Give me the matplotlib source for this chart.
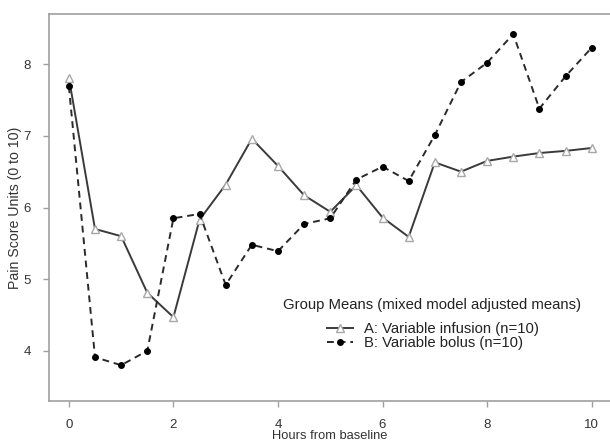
import matplotlib
matplotlib.use("Agg")
import matplotlib.pyplot as plt

hours = [0, 0.5, 1, 1.5, 2, 2.5, 3, 3.5, 4, 4.5, 5, 5.5, 6, 6.5, 7, 7.5, 8, 8.5, 9, 9.5, 10]
infusion = [7.81, 5.70, 5.60, 4.81, 4.47, 5.83, 6.32, 6.96, 6.58, 6.17, 5.94, 6.31, 5.86, 5.59,
            6.63, 6.50, 6.65, 6.71, 6.76, 6.79, 6.83]
bolus = [7.69, 3.91, 3.80, 4.00, 5.85, 5.91, 4.92, 5.48, 5.39, 5.77, 5.85, 6.39, 6.57, 6.37,
         7.01, 7.75, 8.02, 8.42, 7.38, 7.83, 8.23]
xticks = [0, 2, 4, 6, 8, 10]
yticks = [4, 5, 6, 7, 8]
label_a = "A: Variable infusion (n=10)"
label_b = "B: Variable bolus (n=10)"
legend_title = "Group Means (mixed model adjusted means)"

plt.rcParams['font.family'] = ['Liberation Sans', 'DejaVu Sans']

W, H = 610, 442
fig = plt.figure(figsize=(W / 100, H / 100), dpi=100)
ax = fig.add_axes([49 / W, 1 - 401 / H, (611 - 49) / W, (401 - 14) / H])

ax.plot(hours, infusion, color='#3a3a3a', lw=1.4, ls='-', marker='^', ms=5.5,
        mfc='white', mec='#a8a8a8', mew=1.0, label=label_a, zorder=3)
ax.plot(hours, bolus, color='#2a2a2a', lw=1.4, ls=(0, (3.5, 2.5)), marker='o', ms=4,
        mfc='black', mec='black', label=label_b, zorder=3)

ax.set_xlim(-0.38, 10.37)
ax.set_ylim(3.30, 8.70)
ax.set_xticks(xticks)
ax.set_yticks(yticks)

for s in ['left', 'top', 'bottom']:
    ax.spines[s].set_color('#a0a0a0')
    ax.spines[s].set_linewidth(1.2)
ax.spines['right'].set_visible(False)
ax.tick_params(colors='#a0a0a0', length=4, width=1, labelcolor='#333333', labelsize=9.5)
ax.tick_params(axis='x', pad=9)
ax.tick_params(axis='y', pad=9)

ax.set_xlabel("Hours from baseline", fontsize=9.3, color='#333333', labelpad=-1)
ax.set_ylabel("Pain Score Units (0 to 10)", fontsize=10.2, color='#333333')
ax.yaxis.set_label_coords(-0.048, 0.5)

fig.text(432 / W, 1 - 305 / H, legend_title, fontsize=10.7, color='#222222',
         ha='center', va='center')
leg = ax.legend(loc='upper center', bbox_to_anchor=(433 / W, 1 - 315 / H),
                bbox_transform=fig.transFigure, frameon=False,
                fontsize=10.7, handlelength=1.75, handletextpad=0.7,
                labelspacing=-0.03, borderpad=0, numpoints=1)
for t in leg.get_texts():
    t.set_color('#222222')

fig.savefig("out.png", dpi=100)
